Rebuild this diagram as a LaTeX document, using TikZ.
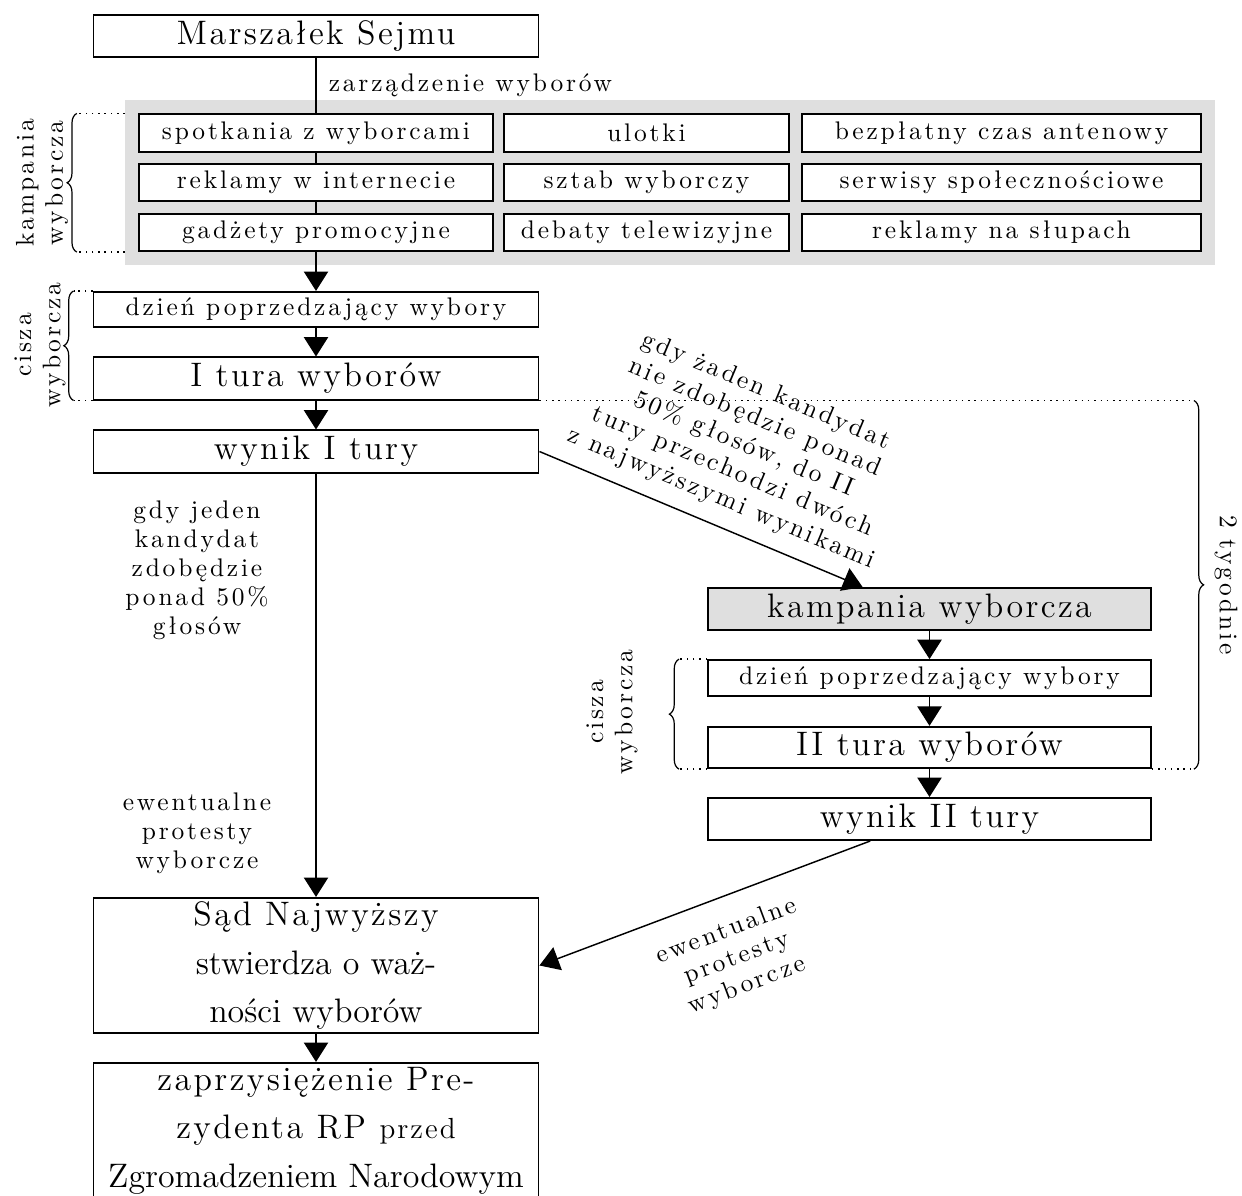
\documentclass[tikz,border=0pt]{standalone}
\usepackage{fontspec}
\newfontfamily\rozstrzel[LetterSpace=11]{Latin Modern Roman}
\newfontfamily\rozstrzelduzy[LetterSpace=7]{Latin Modern Roman}
\usetikzlibrary{arrows.meta,calc,fit,backgrounds,decorations.pathreplacing}

\begin{document}
\begin{tikzpicture}[x=0.0145cm, y=-0.0145cm, every text node part/.style={align=center},
  box/.style={draw, line width=0.8pt, minimum width=6.45cm, minimum height=0.61cm, inner sep=0pt, font=\rozstrzelduzy\fontsize{14}{20}\selectfont},
  thinbox/.style={box, minimum height=0.51cm, font=\rozstrzel\fontsize{10.5}{12}\selectfont},
  cell/.style={draw, fill=white, line width=0.8pt, minimum height=0.54cm, inner sep=0pt, font=\rozstrzel\fontsize{10.5}{12}\selectfont},
  lbl/.style={font=\rozstrzel\fontsize{10.5}{12}\selectfont, inner sep=2pt},
  ln/.style={line width=0.6pt},
  arr/.style={ln, -{Triangle[width=10pt, length=8pt]}},
  dots/.style={dotted, line width=0.6pt},
  brc/.style={decorate, decoration={brace, amplitude=4pt}, line width=0.5pt}]
\useasboundingbox (0,0) rectangle (1242,1195);

% I tura
\node[box] (marszalek) at (316,36) {Marszałek Sejmu};
\node[cell, minimum width=5.12cm] (spotkania) at (316,133) {spotkania z wyborcami};
\node[cell, minimum width=4.13cm] (ulotki) at (646.5,133) {ulotki};
\node[cell, minimum width=5.79cm] (czas) at (1001.5,133) {bezpłatny czas antenowy};
\node[cell, minimum width=5.12cm] (reklamy) at (316,182.5) {reklamy w internecie};
\node[cell, minimum width=4.13cm] (sztab) at (646.5,182.5) {sztab wyborczy};
\node[cell, minimum width=5.79cm] (serwisy) at (1001.5,182.5) {serwisy społecznościowe};
\node[cell, minimum width=5.12cm] (gadzety) at (316,232.5) {gadżety promocyjne};
\node[cell, minimum width=4.13cm] (debaty) at (646.5,232.5) {debaty telewizyjne};
\node[cell, minimum width=5.79cm] (slupy) at (1001.5,232.5) {reklamy na słupach};
\begin{scope}[on background layer]
\node[fit=(spotkania)(czas)(gadzety)(slupy), fill=gray!25, inner sep=0.19cm] (tlo) {};
\end{scope}
\node[thinbox] (dzien1) at (316,309.5) {dzień poprzedzający wybory};
\node[box] (tura1) at (316,378.5) {I tura wyborów};
\node[box] (wynik1) at (316,451.5) {wynik I tury};

% II tura
\node[box, minimum width=6.42cm, fill=gray!25] (kamp2) at (929.5,609) {kampania wyborcza};
\node[thinbox, minimum width=6.42cm, minimum height=0.52cm] (dzien2) at (929.5,678) {dzień poprzedzający wybory};
\node[box, minimum width=6.42cm, minimum height=0.6cm] (tura2) at (929.5,747.5) {II tura wyborów};
\node[box, minimum width=6.42cm] (wynik2) at (929.5,819) {wynik II tury};

\node[box, minimum height=1.96cm] (sad) at (316,965.5) {Sąd Najwyższy\\{\rmfamily stwierdza o waż-}\\{\rmfamily ności wyborów}};
\node[box, minimum height=1.96cm] (zaprz) at (316,1130.5) {zaprzysiężenie Pre-\\zydenta RP {\fontsize{12}{20}\selectfont przed}\\{\rmfamily Zgromadzeniem Narodowym}};

\node[lbl] (jeden) at (197,570) {gdy jeden\\kandydat\\zdobędzie\\ponad 50\%\\głosów};
\node[lbl] (protesty1) at (197,833) {ewentualne\\protesty\\wyborcze};

% polaczenia
\draw[ln] (marszalek) -- node[lbl, right, inner sep=5pt]{zarządzenie wyborów} (spotkania);
\draw[ln] (spotkania) -- (reklamy);
\draw[ln] (reklamy) -- (gadzety);
\draw[arr] (gadzety) -- (dzien1);
\draw[arr] (dzien1) -- (tura1);
\draw[arr] (tura1) -- (wynik1);
\draw[arr] (wynik1) -- (sad);
\draw[arr] (sad) -- (zaprz);
\draw[arr] (wynik1.east) -- node[lbl, pos=0.53, above=4pt, sloped]{gdy żaden kandydat\\nie zdobędzie ponad\\50\% głosów, do II\\tury przechodzi dwóch\\z najwyższymi wynikami} ([xshift=-0.97cm]kamp2.north);
\draw[arr] (kamp2) -- (dzien2);
\draw[arr] (dzien2) -- (tura2);
\draw[arr] (tura2) -- (wynik2);
\draw[arr] ([xshift=-0.86cm]wynik2.south) -- node[lbl, pos=0.47, below=7pt, sloped]{ewentualne\\protesty\\wyborcze} (sad.east);

% klamry
\draw[dots] (tlo.west |- spotkania.north) -- ++(-48,0) coordinate (kg);
\draw[dots] (tlo.west |- gadzety.south) -- ++(-48,0) coordinate (kd);
\draw[brc] (kd) -- (kg);
\node[lbl, rotate=90] (kampLbl) at (42,183) {kampania\\wyborcza};

\draw[dots] (dzien1.north west) -- ++(-19,0) coordinate (c1g);
\draw[dots] (tura1.south west) -- ++(-19,0) coordinate (c1d);
\draw[brc] (c1d) -- (c1g);
\node[lbl, rotate=90] (cisza1) at (40,345) {cisza\\wyborcza};

\draw[dots] (dzien2.north west) -- ++(-28,0) coordinate (c2g);
\draw[dots] (tura2.south west) -- ++(-28,0) coordinate (c2d);
\draw[brc] (c2d) -- (c2g);
\node[lbl, rotate=90] (cisza2) at (612,712) {cisza\\wyborcza};

\draw[dots] (tura1.south east) -- ($(tura1.south east -| tura2.east)+(42,0)$) coordinate (tg);
\draw[dots] (tura2.south east) -- ++(42,0) coordinate (td);
\draw[brc] (tg) -- (td);
\node[lbl, rotate=-90] (tydz) at (1226,585) {2 tygodnie};
\end{tikzpicture}
\end{document}
